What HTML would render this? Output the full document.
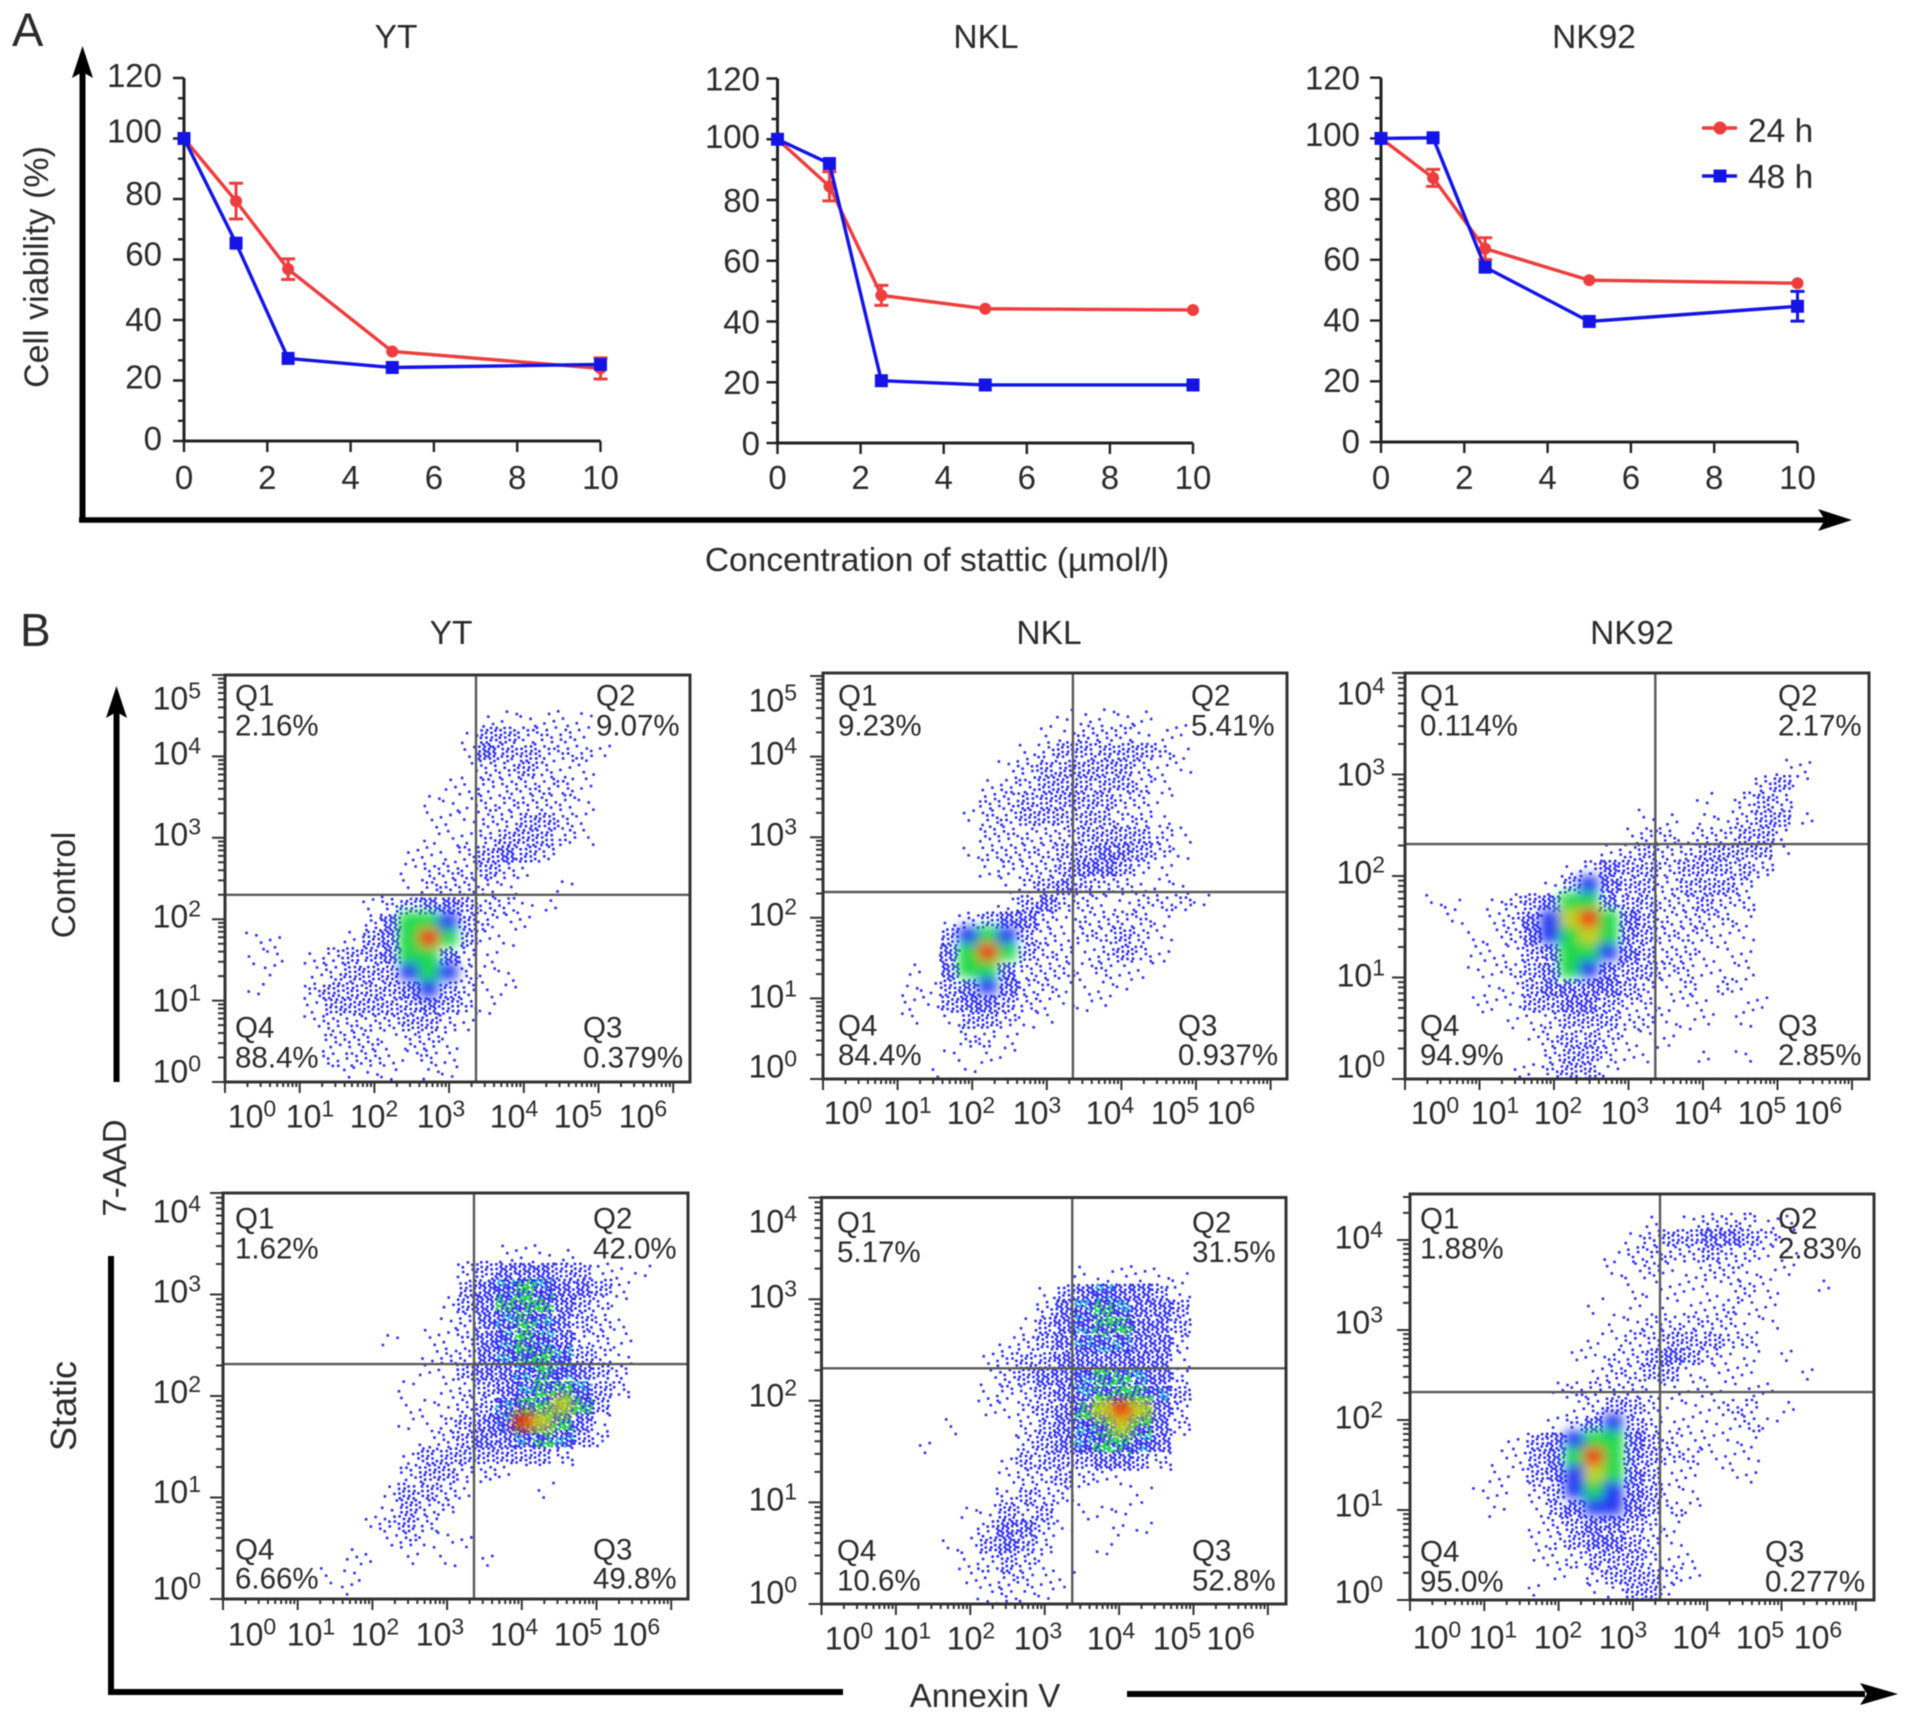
<!DOCTYPE html>
<html lang="en">
<head>
<meta charset="utf-8">
<title>Stattic viability and apoptosis</title>
<style>
html,body{margin:0;padding:0;background:#fff}
#figure{display:block;filter:blur(0.55px)}
text{font-family:"Liberation Sans",sans-serif;fill:#2b2b2b}
</style>
</head>
<body>
<svg id="figure" xmlns="http://www.w3.org/2000/svg" width="1913" height="1723" viewBox="0 0 1913 1723">
<defs><filter id="soft" x="-15%" y="-15%" width="130%" height="130%"><feGaussianBlur stdDeviation="5.5"/></filter></defs>
<rect width="1913" height="1723" fill="#fff"/>

<text x="12" y="46" font-size="47">A</text>
<text x="20" y="646" font-size="46">B</text>

<path d="M82.5 520V60" stroke="#000" stroke-width="6" fill="none"/>
<path d="M82.5 46L72 78L82.5 72L93 78Z" fill="#000"/>
<path d="M79 520H1825" stroke="#000" stroke-width="5.5" fill="none"/>
<path d="M1852 520L1818 509L1825 520L1818 531Z" fill="#000"/>
<text transform="translate(37,267) rotate(-90)" text-anchor="middle" dy="11" font-size="34">Cell viability (%)</text>
<text x="937" y="571" text-anchor="middle" font-size="33.5">Concentration of stattic (µmol/l)</text>
<text x="396" y="48" text-anchor="middle" font-size="33.5">YT</text>
<text x="986" y="48" text-anchor="middle" font-size="33.5">NKL</text>
<text x="1594" y="48" text-anchor="middle" font-size="33.5">NK92</text>
<text x="451" y="644" text-anchor="middle" font-size="33.5">YT</text>
<text x="1049" y="644" text-anchor="middle" font-size="33.5">NKL</text>
<text x="1632" y="644" text-anchor="middle" font-size="33.5">NK92</text>

<g>
<path d="M1702 128H1737" stroke="#ee3d3d" stroke-width="3.5"/>
<circle cx="1720" cy="128" r="6.5" fill="#ee3d3d"/>
<text x="1748" y="142" font-size="33.5">24 h</text>
<path d="M1702 176H1737" stroke="#1414e6" stroke-width="3.5"/>
<rect x="1713.5" y="169.5" width="13" height="13" fill="#1414e6"/>
<text x="1748" y="188" font-size="33.5">48 h</text>
</g>

<path d="M116.5 1082V705" stroke="#000" stroke-width="6" fill="none"/>
<path d="M116.5 686L106 718L116.5 712L127 718Z" fill="#000"/>
<path d="M111 1256V1692H843" stroke="#000" stroke-width="6" fill="none"/>
<path d="M1127 1694H1865" stroke="#000" stroke-width="6" fill="none"/>
<path d="M1898 1694L1860 1683L1867 1694L1860 1705Z" fill="#000"/>
<text x="985" y="1707" text-anchor="middle" font-size="33">Annexin V</text>
<text transform="translate(115,1168) rotate(-90)" text-anchor="middle" dy="11" font-size="33">7-AAD</text>
<text transform="translate(64,885) rotate(-90)" text-anchor="middle" dy="11" font-size="33">Control</text>
<text transform="translate(65,1406) rotate(-90)" text-anchor="middle" dy="11" font-size="36">Static</text>

<g id="lineCharts"></g>
<g id="flowCharts"></g>
</svg>

<script>
/* ---------- Panel A data ---------- */
const doses = [0, 1.25, 2.5, 5, 10];
const xTickValues = [0, 2, 4, 6, 8, 10];
const yTickValues = [0, 20, 40, 60, 80, 100, 120];
const ytViability24h = [100, 79.3, 56.8, 29.6, 24];
const ytError24h = [0, 5.9, 3.4, 0, 3.5];
const ytViability48h = [100, 65.4, 27.3, 24.3, 25.3];
const ytError48h = [0, 0, 0, 0, 0];
const nklViability24h = [100, 84.5, 48.6, 44.2, 43.8];
const nklError24h = [0, 4.8, 3.3, 0, 0];
const nklViability48h = [100, 92, 20.5, 19.1, 19.1];
const nklError48h = [0, 0, 0, 0, 0];
const nk92Viability24h = [100, 87, 63.7, 53.3, 52.3];
const nk92Error24h = [0, 2.8, 3.6, 0, 0];
const nk92Viability48h = [100, 100.2, 57.6, 39.7, 44.7];
const nk92Error48h = [0, 0, 0, 0, 4.9];

/* ---------- Panel B data: event density, 24 x 24 cells, top row first.
   0 empty, 1-4 increasing blue dots, 5 dense blue, 6 green, 7 yellow, 8 red. ---------- */
const xExponents = [0, 1, 2, 3, 4, 5, 6];
const densityYtControl = [
"000000000000000000000000","000000000000000000000000","000000000000011111100000",
"000000000000133222100000","000000000000143322210000","000000000000122321100000",
"000000000001122222100000","000000000011122222100000","000000000011122332100000",
"000000000011123332100000","000000000111234320000000","000000000122232100000000",
"000000000122221001000000","000000012344322110000000","000000024665321100000000",
"011000134686311000000000","011012334664210000000000","001012333565211000000000",
"010023333453211000000000","000013333343210000000000","000012222332100000000000",
"000002221221000000000000","000002221121000000000000","000000111011000000000000"];
const densityNklControl = [
"000000000000000000000000","000000000000000000000000","000000000000111110000000",
"000000000001122211100000","000000000012333332100000","000000000123333321100000",
"000000001223333321000000","000000002233333221000000","000000012233333221000000",
"000000002222233332100000","000000012222334432100000","000000001222344321000000",
"000000000123432211100000","000000000134221122210000","000000123442122221000000",
"000000356532122321000000","000000468632212321000000","000010466422212110000000",
"000011345422111100000000","000011344321111000000000","000010133211000000000000",
"000000022100000000000000","000000101100000000000000","000001010000000000000000"];
const densityNk92Control = [
"000000000000000000000000","000000000000000000000000","000000000000000000000000",
"000000000000000000000000","000000000000000000000000","000000000000000000011000",
"000000000000000000231000","000000000000000102320000","000000000000110112331000",
"000000000001221223310000","000000000012322333310000","000000001243323333200000",
"000000013543323332000000","011012346643322322000000","001012457864322221000000",
"000112456764322211000000","000111346654322111000000","000112346543322111000000",
"000011344443212021000000","000111334432211101100000","000001123332211101000000",
"000000123321110000000000","000000023321100101000000","000001123310000000000000"];
const densityYtStatic = [
"000000000000000000000000","000000000000000000000000","000000000000000000000000",
"000000000000001111000000","000000000000234443311100","000000000000345654431000",
"000000000001346664321000","000000000001245654321000","000000001011245654221000",
"000000000012245665321000","000000000011344565432000","000000000101234566532000",
"000000000111235667630000","000000000112345876410000","000000000012344565320000",
"000000000133333332000000","000000000233221000000000","000000001332100010000000",
"000000001322000000000000","000000012320000000000000","000000001211100000000000",
"000000110101010000000000","000001100000000000000000","000000100000000000000000"];
const densityNklStatic = [
"000000000000000000000000","000000000000000000000000","000000000000000000000000",
"000000000000000000000000","000000000000011111100000","000000000001345443100000",
"000000000002456544300000","000000000013456644300000","000000000123455544200000",
"000000001233444444100000","000000001234456654200000","000000001223456665300000",
"000000001123467874200000","000000100023456764200000","000001000023456654000000",
"000000000133334432000000","000000000122321100000000","000000000232200010000000",
"000000011323011100000000","000000002442100110000000","000000113432001000000000",
"000000012321000000000000","000000011221100000000000","000000001211000000000000"];
const densityNk92Static = [
"000000000000000000000000","000000000000101222110000","000000000001233443210000",
"000000000012222322110000","000000000011211221110000","000000000001111112100100",
"000000000101011121100000","000000000011222221100000","000000000112233322000000",
"000000001122343211010000","000000000122331111001000","000000012222111111100000",
"000000001233211122010000","000000012453211112100000","000001345664321111000000",
"000011346864322111000000","000011345764311011000000","000110235654311000000000",
"000010134554321000000000","000000123443210000000000","000000123443210000000000",
"000000112333211000000000","000000010233321000000000","000000100113310000000000"];

const NS = 'http://www.w3.org/2000/svg';
function el(tag, attrs, parent, text) {
  const node = document.createElementNS(NS, tag);
  for (const k in attrs) node.setAttribute(k, attrs[k]);
  if (text !== undefined) node.textContent = text;
  parent.appendChild(node);
  return node;
}

/* ---------- Panel A drawing ---------- */
const RED = '#ee3d3d', BLUE = '#1414e6';
function drawSeries(g, xs, ys, values, errors, color, isSquare, seriesName) {
  const line = el('polyline', {
    points: doses.map(function (d, i) { return xs(d) + ',' + ys(values[i]); }).join(' '),
    fill: 'none', stroke: color, 'stroke-width': 3.4, 'stroke-linejoin': 'round'
  }, g);
  
  
  doses.forEach(function (d, i) {
    const cx = xs(d), cy = ys(values[i]);
    if (errors[i] > 0) {
      const top = ys(values[i] + errors[i]), bot = ys(values[i] - errors[i]);
      const bar = el('path', {
        d: 'M' + (cx - 7) + ' ' + top + 'H' + (cx + 7) + 'M' + cx + ' ' + top + 'V' + bot + 'M' + (cx - 7) + ' ' + bot + 'H' + (cx + 7),
        fill: 'none', stroke: color, 'stroke-width': 3
      }, g);
      
      
    }
    const mark = isSquare
      ? el('rect', { x: cx - 6.5, y: cy - 6.5, width: 13, height: 13, fill: color }, g)
      : el('circle', { cx: cx, cy: cy, r: 6, fill: color }, g);
    
    
  });
}
function drawLineChart(c) {
  const root = document.getElementById('lineCharts');
  const g = el('g', {}, root);
  
  
  const xs = function (v) { return c.x0 + (c.x10 - c.x0) * v / 10; };
  const ys = function (v) { return c.y0 + (c.y120 - c.y0) * v / 120; };
  const axes = el('path', {
    d: 'M' + xs(0) + ' ' + ys(120) + 'V' + ys(0) + 'H' + xs(10),
    fill: 'none', stroke: '#222', 'stroke-width': 3
  }, g);
  
  
  let tickPath = '';
  for (let k = 0; k <= 18; k++) {
    const v = k * 120 / 18;
    tickPath += 'M' + (xs(0) - (k % 3 === 0 ? 11 : 6)) + ' ' + ys(v) + 'H' + xs(0);
  }
  xTickValues.forEach(function (v) { tickPath += 'M' + xs(v) + ' ' + ys(0) + 'v11'; });
  const ticks = el('path', { d: tickPath, fill: 'none', stroke: '#222', 'stroke-width': 2.4 }, g);
  
  
  yTickValues.forEach(function (v, i) {
    const t = el('text', { x: c.labelRight, y: ys(v) + c.labelNudge[i] + 11.8, 'text-anchor': 'end', 'font-size': 33 }, g, String(v));
    
    
  });
  xTickValues.forEach(function (v) {
    const t = el('text', { x: xs(v), y: 489, 'text-anchor': 'middle', 'font-size': 33 }, g, String(v));
    
    
  });
  drawSeries(g, xs, ys, c.v24, c.e24, RED, false, c.name + '-24h');
  drawSeries(g, xs, ys, c.v48, c.e48, BLUE, true, c.name + '-48h');
}
drawLineChart({ name: 'yt', x0: 184, x10: 600.5, y0: 441, y120: 78, labelRight: 162, labelNudge: [-3, -4, -1, -6, -6, -8, -3], v24: ytViability24h, e24: ytError24h, v48: ytViability48h, e48: ytError48h });
drawLineChart({ name: 'nkl', x0: 777.5, x10: 1193, y0: 443, y120: 78.5, labelRight: 760, labelNudge: [0, 0, 0, 0, 0, -3, 0], v24: nklViability24h, e24: nklError24h, v48: nklViability48h, e48: nklError48h });
drawLineChart({ name: 'nk92', x0: 1381, x10: 1797.5, y0: 442, y120: 77.7, labelRight: 1360, labelNudge: [-1, -1, -1, -1, 0, -4, 0], v24: nk92Viability24h, e24: nk92Error24h, v48: nk92Viability48h, e48: nk92Error48h });

/* ---------- Panel B drawing ---------- */
const DOT_COUNTS = [0, 3, 8, 16, 26, 36, 42];
const SOLID_COLORS = { 5: '#2438f2', 6: '#1ed84a', 7: '#c4d21e', 8: '#f0280f' };
function drawFlow(c) {
  const root = document.getElementById('flowCharts');
  const g = el('g', {}, root);
  
  
  const xs = function (lg) { return c.left + lg * c.xDec; };
  const ys = function (lg) { return c.bottom - lg * c.yDec; };
  const xSpan = (c.right - c.left) / c.xDec, ySpan = (c.bottom - c.top) / c.yDec;
  const rows = c.grid.length;
  const dots = el('g', {}, g);
  
  
  const solid = el('g', { filter: 'url(#soft)' }, g);
  
  
  [5, 6, 7, 8].forEach(function (drawLevel) {
    c.grid.forEach(function (row, i) {
      for (let j = 0; j < row.length; j++) {
        if (+row[j] !== drawLevel) continue;
        if (c.mottled && drawLevel < 7) continue;
        const x1 = xs(j * xSpan / row.length), x2 = xs((j + 1) * xSpan / row.length);
        const y1 = ys((rows - i) * ySpan / rows), y2 = ys((rows - i - 1) * ySpan / rows);
        const cell = el('rect', { x: x1, y: y1, width: x2 - x1, height: y2 - y1, fill: SOLID_COLORS[drawLevel] }, solid);
        
        
      }
    });
  });
  c.grid.forEach(function (row, i) {
    const cols = row.length;
    for (let j = 0; j < cols; j++) {
      const level = +row[j];
      if (!level) continue;
      if (level >= 5 && !c.mottled) continue;
      const x1 = xs(j * xSpan / cols), x2 = xs((j + 1) * xSpan / cols);
      const y1 = ys((rows - i) * ySpan / rows), y2 = ys((rows - i - 1) * ySpan / rows);
      const n = DOT_COUNTS[Math.min(level, 6)];
      const phaseA = (i * 0.3717 + j * 0.7131) % 1;
      const phaseB = (i * 0.8191 + j * 0.2773) % 1;
      const mixShare = level === 5 ? 0.25 : (level >= 6 ? 0.5 : 0);
      const mixColor = level === 5 ? '#22b4cc' : '#22c95a';
      let d = '', dMix = '';
      for (let k = 0; k < n; k++) {
        /* low-discrepancy placement inside the cell: texture only, the count comes from the grid */
        const fx = (phaseA + (k + 1) * 0.7548777) % 1;
        const fy = (phaseB + (k + 1) * 0.5698403) % 1;
        const px = x1 + fx * (x2 - x1), py = y1 + fy * (y2 - y1);
        const sq = 'M' + px.toFixed(1) + ' ' + py.toFixed(1) + 'h2.6v2.6h-2.6z';
        if ((phaseB + k * 0.4142136) % 1 < mixShare) dMix += sq; else d += sq;
      }
      const cell = el('path', { d: d, fill: '#3030ee' }, dots);
      
      
      if (dMix) {
        const mix = el('path', { d: dMix, fill: mixColor }, dots);
        
        
      }
    }
  });
  const gate = el('path', {
    d: 'M' + xs(c.gateX) + ' ' + c.top + 'V' + c.bottom + 'M' + c.left + ' ' + ys(c.gateY) + 'H' + c.right,
    fill: 'none', stroke: '#5a5a5a', 'stroke-width': 2.4
  }, g);
  
  
  const frame = el('rect', { x: c.left, y: c.top, width: c.right - c.left, height: c.bottom - c.top, fill: 'none', stroke: '#333', 'stroke-width': 3 }, g);
  
  
  let t = '';
  for (let dec = 0; dec < 7; dec++) {
    for (let m = 1; m < 10; m++) {
      const lg = dec + Math.log10(m);
      if (ys(lg) >= c.top - 0.5) t += 'M' + (c.left - (m === 1 ? 13 : 7)) + ' ' + ys(lg) + 'H' + c.left;
      if (lg <= 6) t += 'M' + xs(lg) + ' ' + c.bottom + 'v' + (m === 1 ? 11 : 5);
    }
  }
  const ticks = el('path', { d: t, fill: 'none', stroke: '#333', 'stroke-width': 2 }, g);
  
  
  function powerLabel(x, y, anchor, exp, role) {
    const tx = el('text', { x: x, y: y + 11.5, 'text-anchor': anchor, 'font-size': 32 }, g);
    
    
    el('tspan', {}, tx, '10');
    el('tspan', { dy: -11, 'font-size': 23 }, tx, String(exp));
  }
  xExponents.forEach(function (e, i) { powerLabel(c.xLabelX[i], c.xLabelY, 'middle', e, 'x'); });
  c.yExponents.forEach(function (e, i) { powerLabel(c.yLabelRight, c.yLabelY[i], 'end', e, 'y'); });
  c.quadrants.forEach(function (q) {
    const a = el('text', { x: q[0], y: q[1] + 10.5, 'font-size': 29.5 }, g, q[3]);
    
    
    const b = el('text', { x: q[0], y: q[2] + 10.5, 'font-size': 29.5 }, g, q[4]);
    
    
  });
}
drawFlow({ name: 'yt-control', grid: densityYtControl, left: 225, right: 690, top: 675, bottom: 1082, xDec: 74.7, yDec: 81.4, gateX: 3.36, gateY: 2.30,
  xLabelX: [252, 310, 374, 441, 514, 578, 643], xLabelY: 1116, yExponents: [5, 4, 3, 2, 1, 0], yLabelY: [698, 753, 834, 916, 1000, 1071], yLabelRight: 201,
  quadrants: [[235, 695, 725, 'Q1', '2.16%'], [596, 695, 725, 'Q2', '9.07%'], [235, 1027, 1057, 'Q4', '88.4%'], [583, 1027, 1057, 'Q3', '0.379%']] });
drawFlow({ name: 'nkl-control', grid: densityNklControl, left: 823, right: 1287, top: 673, bottom: 1079, xDec: 74.6, yDec: 80.6, gateX: 3.35, gateY: 2.32,
  xLabelX: [848, 907.5, 971, 1037, 1110, 1175, 1231], xLabelY: 1112.5, yExponents: [5, 4, 3, 2, 1, 0], yLabelY: [700, 753, 834, 914, 996, 1066], yLabelRight: 797,
  quadrants: [[838, 695, 725, 'Q1', '9.23%'], [1191, 695, 725, 'Q2', '5.41%'], [838, 1025, 1054.5, 'Q4', '84.4%'], [1178, 1025, 1054.5, 'Q3', '0.937%']] });
drawFlow({ name: 'nk92-control', grid: densityNk92Control, left: 1405, right: 1869, top: 673, bottom: 1079, xDec: 74.5, yDec: 101.5, gateX: 3.36, gateY: 2.315,
  xLabelX: [1435, 1495, 1558, 1625, 1698, 1762, 1818], xLabelY: 1112.5, yExponents: [4, 3, 2, 1, 0], yLabelY: [693, 774, 872, 975, 1066], yLabelRight: 1385,
  quadrants: [[1420, 695, 725, 'Q1', '0.114%'], [1778, 695, 725, 'Q2', '2.17%'], [1420, 1025, 1054.5, 'Q4', '94.9%'], [1778, 1025, 1054.5, 'Q3', '2.85%']] });
drawFlow({ name: 'yt-static', mottled: true, grid: densityYtStatic, left: 223, right: 688, top: 1193, bottom: 1599, xDec: 74.7, yDec: 101.5, gateX: 3.36, gateY: 2.315,
  xLabelX: [252, 311, 375, 440, 514, 578, 636], xLabelY: 1634, yExponents: [4, 3, 2, 1, 0], yLabelY: [1211, 1291, 1391.5, 1491.6, 1588], yLabelRight: 201,
  quadrants: [[235, 1218, 1248, 'Q1', '1.62%'], [593, 1218, 1248, 'Q2', '42.0%'], [235, 1549, 1578, 'Q4', '6.66%'], [593, 1549, 1578, 'Q3', '49.8%']] });
drawFlow({ name: 'nkl-static', mottled: true, grid: densityNklStatic, left: 821.5, right: 1286, top: 1197.5, bottom: 1604, xDec: 74.4, yDec: 101.6, gateX: 3.37, gateY: 2.32,
  xLabelX: [849, 907, 971, 1038, 1111, 1177, 1230.6], xLabelY: 1638, yExponents: [4, 3, 2, 1, 0], yLabelY: [1221, 1296, 1395, 1499, 1592], yLabelRight: 797,
  quadrants: [[837, 1222, 1251.6, 'Q1', '5.17%'], [1192, 1222, 1251.6, 'Q2', '31.5%'], [837, 1550, 1580, 'Q4', '10.6%'], [1192, 1550, 1580, 'Q3', '52.8%']] });
drawFlow({ name: 'nk92-static', grid: densityNk92Static, left: 1410, right: 1874, top: 1194, bottom: 1600, xDec: 74.3, yDec: 90, gateX: 3.365, gateY: 2.31,
  xLabelX: [1437, 1493, 1558, 1623, 1696.5, 1760, 1818], xLabelY: 1637, yExponents: [4, 3, 2, 1, 0], yLabelY: [1237, 1322, 1417, 1505, 1591.5], yLabelRight: 1383,
  quadrants: [[1420, 1218, 1248, 'Q1', '1.88%'], [1778, 1218, 1248, 'Q2', '2.83%'], [1420, 1551, 1581, 'Q4', '95.0%'], [1765, 1551, 1581, 'Q3', '0.277%']] });
</script>
</body>
</html>
